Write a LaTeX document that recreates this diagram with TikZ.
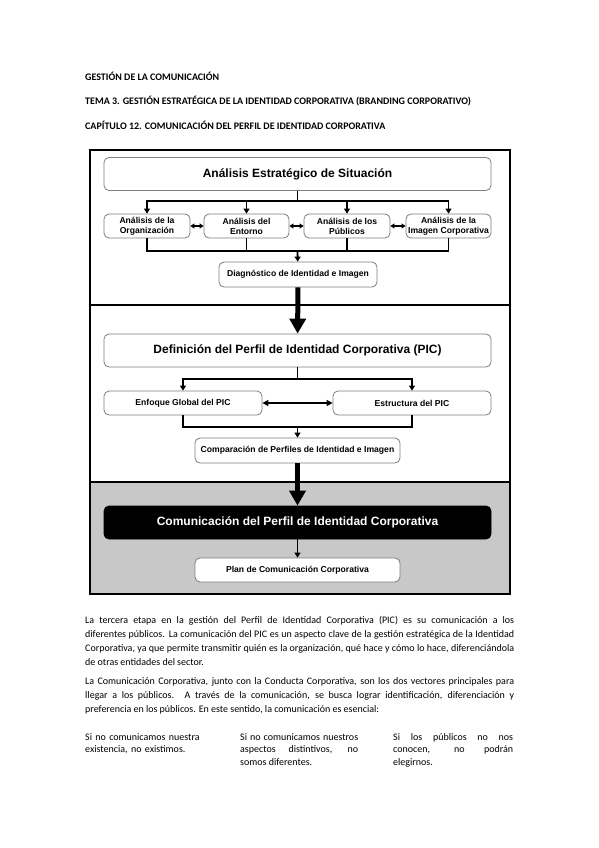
\documentclass[tikz,border=0pt]{standalone}
\usepackage{fontspec}
\setmainfont{Carlito}
\newfontfamily\diagfont{Liberation Sans}
\usetikzlibrary{arrows.meta}
\definecolor{bggray}{RGB}{200,200,200}
\definecolor{boxline}{RGB}{125,125,125}
\newcommand{\bodyspacing}{\spaceskip=0.22em plus 0.4em minus 0.12em\relax}
\begin{document}
\begin{tikzpicture}[x=1pt,y=-1pt,
  box/.style={draw=boxline, line width=0.8pt, rounded corners=5pt, fill=white, inner sep=0pt, align=center,
    font=\diagfont\bfseries\fontsize{8.6}{10}\selectfont},
  bigbox/.style={box, font=\diagfont\bfseries\fontsize{12}{14}\selectfont, minimum width=387pt, minimum height=33pt},
  conn/.style={line width=1.8pt},
  arr/.style={conn, -{Triangle[length=5pt,width=6pt]}},
  dbl/.style={line width=1.6pt, {Triangle[length=4pt,width=5pt]}-{Triangle[length=4pt,width=5pt]}},
  dbltwo/.style={line width=1.5pt, {Triangle[length=6pt,width=6pt]}-{Triangle[length=6pt,width=6pt]}},
  fat/.style={line width=5pt, -{Triangle[length=15pt,width=16pt]}},
  hdr/.style={inner sep=0pt, anchor=base west, font=\bfseries\fontsize{10}{12}\selectfont},
  para/.style={inner sep=0pt, anchor=base west, text width=429pt, align=justify, font=\fontsize{10}{14}\selectfont\bodyspacing},
  col/.style={inner sep=0pt, anchor=base west, font=\fontsize{10}{12.5}\selectfont\bodyspacing},
]
\useasboundingbox (0,0) rectangle (599,848);
\fill[white] (0,0) rectangle (599,848);

% headers
\node[hdr] (h1) at (85,80.5) {GESTIÓN DE LA COMUNICACIÓN};
\node[hdr] (h2) at (85,105) {TEMA 3. GESTIÓN ESTRATÉGICA DE LA IDENTIDAD CORPORATIVA (BRANDING CORPORATIVO)};
\node[hdr] (h3) at (85,129.5) {CAPÍTULO 12. COMUNICACIÓN DEL PERFIL DE IDENTIDAD CORPORATIVA};

% frame
\fill[bggray] (90,482) rectangle (510,594);
\draw[line width=2pt] (90,305) -- (510,305);
\draw[line width=2pt] (90,482) -- (510,482);
\draw[line width=2.4pt] (90,150) rectangle (510,594);

% nodes
\node[bigbox] (A) at (297.5,174) {Análisis Estratégico de Situación};
\node[box, minimum width=86pt, minimum height=24pt] (B1) at (147,226) {Análisis de la\\Organización};
\node[box, minimum width=85pt, minimum height=24pt] (B2) at (246.5,226) {Análisis del\\Entorno};
\node[box, minimum width=86pt, minimum height=24pt] (B3) at (347,226) {Análisis de los\\Públicos};
\node[box, minimum width=85pt, minimum height=24pt] (B4) at (448.5,226) {Análisis de la\\Imagen Corporativa};
\node[box, minimum width=158pt, minimum height=25pt] (D) at (298,274.5) {Diagnóstico de Identidad e Imagen};

\node[bigbox] (E) at (297.5,350.5) {Definición del Perfil de Identidad Corporativa (PIC)};
\node[box, minimum width=158pt, minimum height=24pt] (F1) at (183,403) {Enfoque Global del PIC};
\node[box, minimum width=158pt, minimum height=24pt] (F2) at (412,403) {Estructura del PIC};
\node[box, minimum width=205pt, minimum height=25pt] (G) at (297.5,450.5) {Comparación de Perfiles de Identidad e Imagen};

\node[bigbox, fill=black, draw=black, text=white] (H) at (297.5,522.5) {Comunicación del Perfil de Identidad Corporativa};
\node[box, minimum width=205pt, minimum height=24pt] (I) at (297.5,570) {Plan de Comunicación Corporativa};

% junctions
\coordinate (j1) at (297.5,201);
\coordinate (j2) at (297.5,251);
\coordinate (j3) at (297.5,379);
\coordinate (j4) at (297.5,427);

% connectors
\draw[conn] (A) -- (j1);
\draw[arr] (j1) -| (B1);
\draw[arr] (j1) -| (B2);
\draw[arr] (j1) -| (B3);
\draw[arr] (j1) -| (B4);
\draw[dbl] (B1) -- (B2);
\draw[dbl] (B2) -- (B3);
\draw[dbl] (B3) -- (B4);
\draw[conn] (B1) |- (j2);
\draw[conn] (B2) |- (j2);
\draw[conn] (B3) |- (j2);
\draw[conn] (B4) |- (j2);
\draw[arr] (j2) -- (D);
\draw[fat] (D) -- (E);

\draw[conn] (E) -- (j3);
\draw[arr] (j3) -| (F1);
\draw[arr] (j3) -| (F2);
\draw[dbltwo] (F1) -- (F2);
\draw[conn] (F1) |- (j4);
\draw[conn] (F2) |- (j4);
\draw[arr] (j4) -- (G);
\draw[fat] (G) -- (H);
\draw[arr] (H) -- (I);

% body text
\node[para] (p1) at (85,623) {La tercera etapa en la gestión del Perfil de Identidad Corporativa (PIC) es su comunicación a los\linebreak diferentes públicos. La comunicación del PIC es un aspecto clave de la gestión estratégica de la Identidad\linebreak Corporativa, ya que permite transmitir quién es la organización, qué hace y cómo lo hace, diferenciándola\linebreak de otras entidades del sector.};
\node[para] (p2) at (85,684) {La Comunicación Corporativa, junto con la Conducta Corporativa, son los dos vectores principales para\linebreak llegar a los públicos. A través de la comunicación, se busca lograr identificación, diferenciación y\linebreak preferencia en los públicos. En este sentido, la comunicación es esencial:};

\node[col, text width=140pt, align=left] (c1) at (85,740) {Si no comunicamos nuestra\\existencia, no existimos.};
\node[col, text width=118pt, align=justify] (c2) at (240,740) {Si no comunicamos nuestros\linebreak aspectos distintivos, no\linebreak somos diferentes.};
\node[col, text width=120pt, align=justify] (c3) at (393,740) {Si los públicos no nos\linebreak conocen, no podrán\linebreak elegirnos.};
\end{tikzpicture}
\end{document}
